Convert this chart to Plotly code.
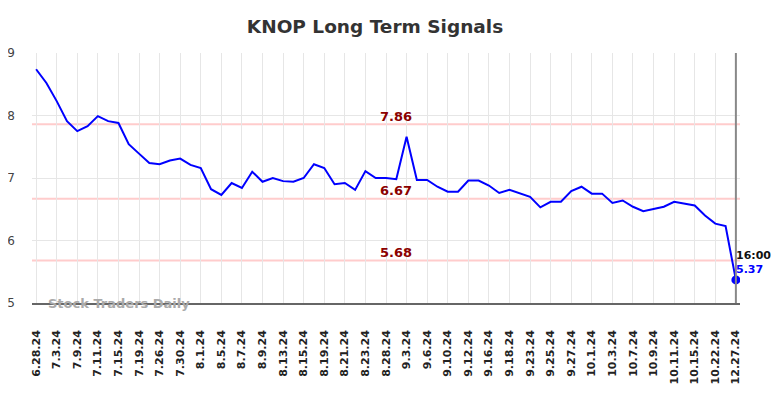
import plotly.graph_objects as go

title = "KNOP Long Term Signals"
tick_labels = ["6.28.24", "7.3.24", "7.9.24", "7.11.24", "7.15.24", "7.19.24", "7.26.24",
               "7.30.24", "8.1.24", "8.5.24", "8.7.24", "8.9.24", "8.13.24", "8.15.24",
               "8.19.24", "8.21.24", "8.23.24", "8.28.24", "9.3.24", "9.6.24", "9.10.24",
               "9.12.24", "9.16.24", "9.18.24", "9.23.24", "9.25.24", "9.27.24", "10.1.24",
               "10.3.24", "10.7.24", "10.9.24", "10.11.24", "10.15.24", "10.22.24", "12.27.24"]
values = [8.74, 8.52, 8.23, 7.91, 7.75, 7.83, 7.99, 7.91, 7.88, 7.54,
          7.39, 7.24, 7.22, 7.28, 7.31, 7.21, 7.16, 6.82, 6.73, 6.92,
          6.84, 7.10, 6.94, 7.00, 6.95, 6.94, 7.00, 7.22, 7.16, 6.90,
          6.92, 6.81, 7.11, 7.00, 7.00, 6.98, 7.66, 6.97, 6.97, 6.86,
          6.78, 6.78, 6.96, 6.96, 6.88, 6.76, 6.81, 6.75, 6.70, 6.53,
          6.62, 6.62, 6.79, 6.86, 6.75, 6.75, 6.60, 6.64, 6.54, 6.47,
          6.50, 6.54, 6.62, 6.59, 6.56, 6.40, 6.27, 6.23, 5.37]
levels = [7.86, 6.67, 5.68]
last_time = "16:00"
watermark = "Stock Traders Daily"

x = list(range(len(values)))
tick_pos = x[::2]

fig = go.Figure()
fig.add_trace(go.Scatter(x=x, y=values, mode="lines",
                         line=dict(color="#0000ff", width=2), hoverinfo="skip"))
fig.add_trace(go.Scatter(x=[x[-1]], y=[values[-1]], mode="markers",
                         marker=dict(color="#0000ff", size=9), hoverinfo="skip"))

for lv in levels:
    fig.add_shape(type="line", xref="paper", x0=0, x1=1, y0=lv, y1=lv,
                  line=dict(color="#ffcccc", width=2), layer="below")
    fig.add_annotation(x=35, y=lv, text=f"<b>{lv:.2f}</b>", showarrow=False,
                       yshift=8, font=dict(family="DejaVu Sans", size=13, color="#8b0000"))

fig.add_shape(type="line", x0=x[-1], x1=x[-1], yref="paper", y0=0, y1=1,
              line=dict(color="#888888", width=2))

fig.add_annotation(x=x[-1], y=values[-1], text=f"<b>{last_time}</b>", showarrow=False,
                   xanchor="left", yshift=24, xshift=-2,
                   font=dict(family="DejaVu Sans", size=11, color="#111111"))
fig.add_annotation(x=x[-1], y=values[-1], text=f"<b>{values[-1]:.2f}</b>", showarrow=False,
                   xanchor="left", yshift=10, xshift=-2,
                   font=dict(family="DejaVu Sans", size=11, color="#0000ff"))

fig.add_annotation(xref="paper", yref="paper", x=0.02, y=0.0, xanchor="left", yanchor="middle",
                   text=f"<b>{watermark}</b>", showarrow=False,
                   font=dict(family="DejaVu Sans", size=13, color="#aaaaaa"))

fig.update_layout(
    width=776, height=390,
    margin=dict(l=24, r=44, t=45, b=95),
    paper_bgcolor="white", plot_bgcolor="white",
    showlegend=False,
    title=dict(text=f"<b>{title}</b>", x=367 / 776, xanchor="center", y=1 - 19 / 390,
               yanchor="middle",
               font=dict(family="DejaVu Sans", size=18.5, color="#333333")),
    xaxis=dict(range=[-0.4, len(values) - 1 + 0.4], tickmode="array", tickvals=tick_pos,
               ticktext=tick_labels, tickangle=-90, showgrid=True, gridcolor="#e6e6e6",
               gridwidth=1, zeroline=False, showline=True, linecolor="#666666", linewidth=1.5,
               ticks="", ticklabelstandoff=21, automargin=False,
               tickfont=dict(family="DejaVu Sans", size=11, color="#222222", weight="bold")),
    yaxis=dict(range=[5, 9], tickvals=[5, 6, 7, 8, 9], showgrid=True, gridcolor="#e6e6e6",
               zeroline=False, showline=False, ticks="", ticklabelstandoff=16, automargin=False,
               tickfont=dict(family="DejaVu Sans", size=12, color="#444444")),
)

fig.write_html("out.html")
